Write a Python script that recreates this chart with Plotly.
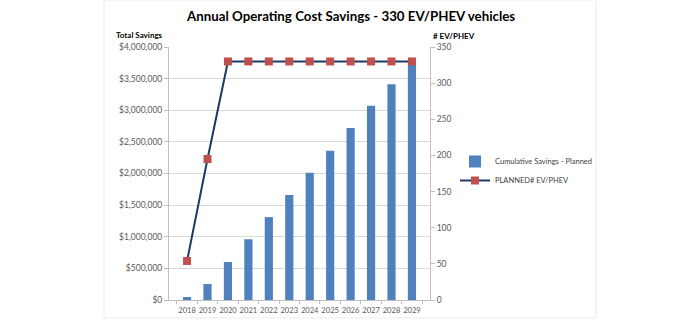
import plotly.graph_objects as go

years = ["2018", "2019", "2020", "2021", "2022", "2023", "2024", "2025", "2026", "2027", "2028", "2029"]
cumulative_savings = [47000, 253000, 600000, 960000, 1310000, 1660000, 2010000, 2360000, 2720000, 3070000, 3410000, 3760000]
planned_ev = [54, 195, 330, 330, 330, 330, 330, 330, 330, 330, 330, 330]

FONT = "Lato"
L, R, T, B = 169, 254, 47, 22
W, H = 684, 322
pw, ph = W - L - R, H - T - B

def px(x):
    return (x - L) / pw

def py(y):
    return (H - B - y) / ph

fig = go.Figure()
fig.add_trace(go.Bar(
    x=years, y=cumulative_savings, name="Cumulative Savings - Planned",
    marker=dict(color="#4F81BD", line=dict(width=0)), width=0.4, yaxis="y",
))
fig.add_trace(go.Scatter(
    x=years, y=planned_ev, name="PLANNED# EV/PHEV", mode="lines+markers",
    line=dict(color="#1F3864", width=2),
    marker=dict(symbol="square", size=8, color="#C0504D", line=dict(width=0)),
    yaxis="y2",
))

tickfont = dict(family=FONT, size=8.5, color="#595959")
fig.update_layout(
    width=W, height=H,
    margin=dict(l=L, r=R, t=T, b=B, autoexpand=False),
    paper_bgcolor="white", plot_bgcolor="white",
    font=dict(family=FONT, size=8.5, color="#595959"),
    xaxis=dict(
        type="category", showgrid=False, ticks="outside", tickson="boundaries",
        ticklen=3, tickcolor="#BFBFBF", showline=True, linecolor="#BFBFBF",
        tickfont=dict(family=FONT, size=7.6, color="#595959"),
        tickangle=0, automargin=False, ticklabelstandoff=3,
    ),
    yaxis=dict(
        range=[0, 4000000], dtick=500000, tickformat="$,.0f",
        showgrid=True, gridcolor="#D9D9D9", gridwidth=1,
        ticks="outside", ticklen=4, tickcolor="#BFBFBF",
        showline=True, linecolor="#BFBFBF", zeroline=False,
        tickfont=tickfont, automargin=False,
    ),
    yaxis2=dict(
        range=[0, 350], dtick=50, overlaying="y", side="right",
        showgrid=False, ticks="outside", ticklen=4, tickcolor="#BFBFBF",
        showline=True, linecolor="#BFBFBF", zeroline=False,
        tickfont=tickfont, automargin=False,
    ),
    legend=dict(
        x=px(455), y=py(171), xanchor="left", yanchor="middle",
        font=dict(family=FONT, size=7.5, color="#404040"),
        bgcolor="rgba(0,0,0,0)", tracegroupgap=0, itemwidth=30,
    ),
    showlegend=True,
)

fig.add_annotation(
    text="<b>Annual Operating Cost Savings - 330 EV/PHEV vehicles</b>",
    xref="paper", yref="paper", x=px(350), y=py(16),
    xanchor="center", yanchor="middle", showarrow=False,
    font=dict(family=FONT, size=13.3, color="#000000"),
)
fig.add_annotation(
    text="<b>Total Savings</b>", xref="paper", yref="paper",
    x=px(139), y=py(35), xanchor="center", yanchor="middle", showarrow=False,
    font=dict(family=FONT, size=8, color="#000000"),
)
fig.add_annotation(
    text="<b># EV/PHEV</b>", xref="paper", yref="paper",
    x=px(431), y=py(36), xanchor="left", yanchor="middle", showarrow=False,
    font=dict(family=FONT, size=8, color="#000000"),
)
fig.add_shape(
    type="rect", xref="paper", yref="paper",
    x0=px(104), x1=px(596), y0=py(318), y1=py(0),
    line=dict(color="#EBEBEB", width=1), layer="below",
)

fig.write_html("out.html")
